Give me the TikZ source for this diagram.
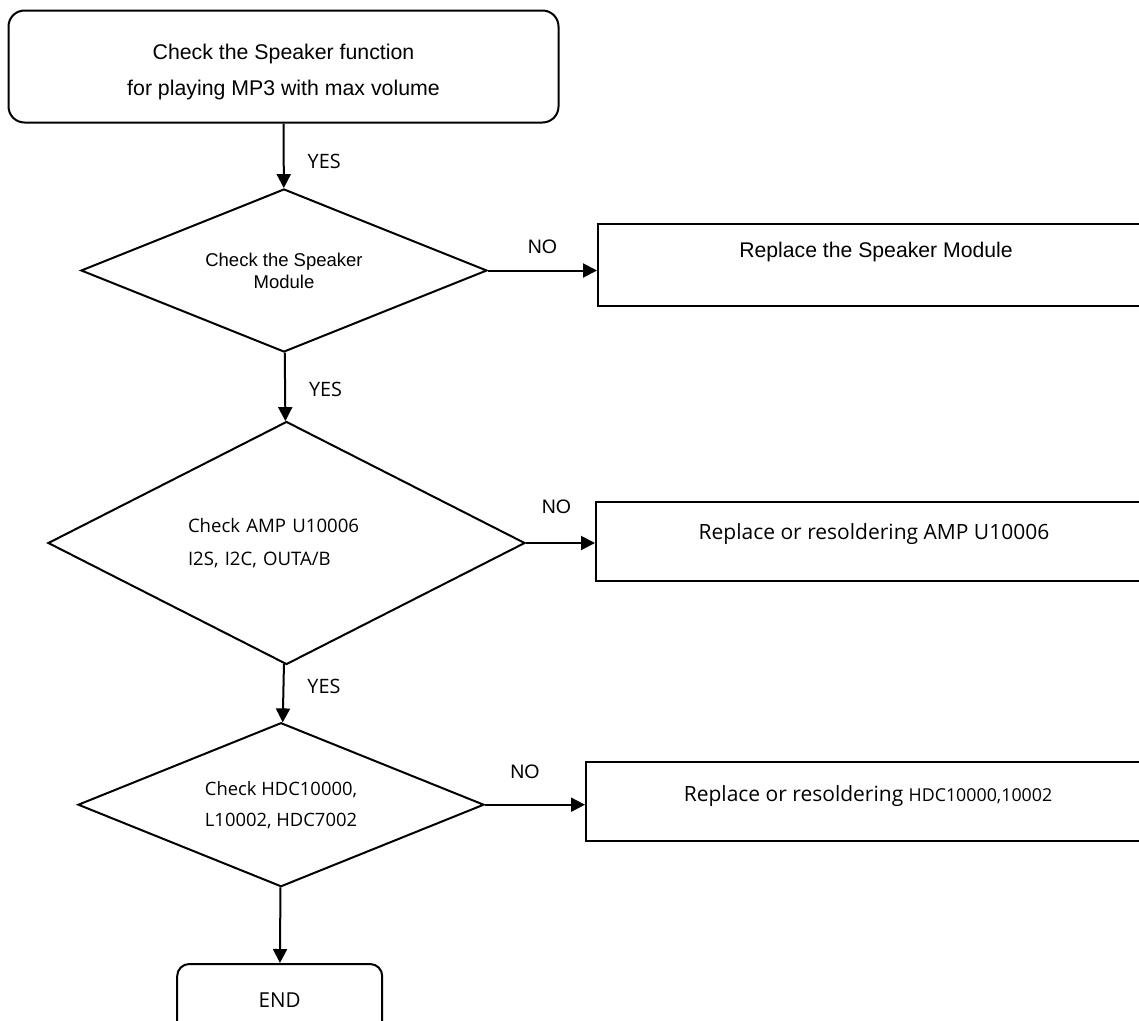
\documentclass[tikz,border=0pt]{standalone}
\usepackage{fontspec}
\setmainfont{Liberation Sans}
\newfontfamily\korfont{Open Sans}
\usepackage{tikz}
\usetikzlibrary{arrows.meta,shapes.geometric}

\begin{document}
\begin{tikzpicture}[
  x=1pt, y=-1pt,
  startbox/.style={draw,rounded corners=16pt,line width=2pt,align=center,inner sep=0pt},
  decision/.style={draw,diamond,aspect=2,line width=2pt,inner sep=0pt},
  actbox/.style={draw,line width=2pt,inner sep=0pt,anchor=west,text height=15pt},
  arrow/.style={-{Triangle[length=14pt,width=14pt]},line width=2pt},
  lbl/.style={inner sep=0pt,font=\fontsize{19.5}{22}\selectfont},
  yes/.style={lbl,anchor=west,xshift=23pt,font=\korfont\fontsize{19.8}{22}\selectfont}
]
\useasboundingbox (0,0) rectangle (1139,1020);

\node[startbox,minimum width=550pt,minimum height=112pt,
  font=\fontsize{21.3}{35.5}\selectfont] (start) at (283.5,66.5)
  {\rule{0pt}{26pt}Check the Speaker function\\for playing MP3 with max volume};

\node[decision,minimum width=406pt,minimum height=163pt,align=center,
  font=\fontsize{18.5}{22}\selectfont] (spk) at (284,270.5)
  {Check the Speaker\\Module};
\node[decision,minimum width=477pt,minimum height=243pt,align=left,text width=197pt,
  font=\korfont\fontsize{18.6}{33}\selectfont] (amp) at (286.5,543)
  {Check AMP U10006\\I2S, I2C, OUTA/B};
\node[decision,minimum width=406pt,minimum height=164pt,align=left,
  font=\korfont\fontsize{18.4}{31}\selectfont] (hdc) at (281,804.7)
  {Check HDC10000,\\L10002, HDC7002};

\node[actbox,minimum width=556pt,minimum height=82pt,text depth=30pt,
  font=\fontsize{21.2}{25}\selectfont] (rspk) at (597,265)
  {Replace the Speaker Module};
\node[actbox,minimum width=556pt,minimum height=79pt,text depth=19pt,
  font=\korfont\fontsize{21}{25}\selectfont] (ramp) at (595,541)
  {Replace or resoldering AMP U10006};
\node[actbox,minimum width=564pt,minimum height=79pt,text depth=16pt,
  font=\korfont\fontsize{21}{25}\selectfont] (rhdc) at (585,801.5)
  {Replace or resoldering {\fontsize{17.8}{20}\selectfont HDC10000,10002}};

\node[startbox,rounded corners=12pt,minimum width=205pt,minimum height=72pt,
  font=\korfont\fontsize{20.6}{25}\selectfont] (end) at (279.7,1000) {END};

% YES path
\draw[arrow] (start) -- node[yes,pos=0.58] {YES} (spk);
\draw[arrow] (spk) -- node[yes,pos=0.54] {YES} (amp);
\draw[arrow] (amp) -- node[yes,pos=0.38] {YES} (hdc);
\draw[arrow] (hdc) -- (end);

% NO path
\draw[arrow] (spk.east) -- node[lbl,above=16pt] {NO} (spk.east -| rspk.west);
\draw[arrow] (amp.east) -- node[lbl,above=28pt,xshift=-4pt] {NO} (amp.east -| ramp.west);
\draw[arrow] (hdc.east) -- node[lbl,above=25pt,xshift=-10pt] {NO} (hdc.east -| rhdc.west);
\end{tikzpicture}
\end{document}
